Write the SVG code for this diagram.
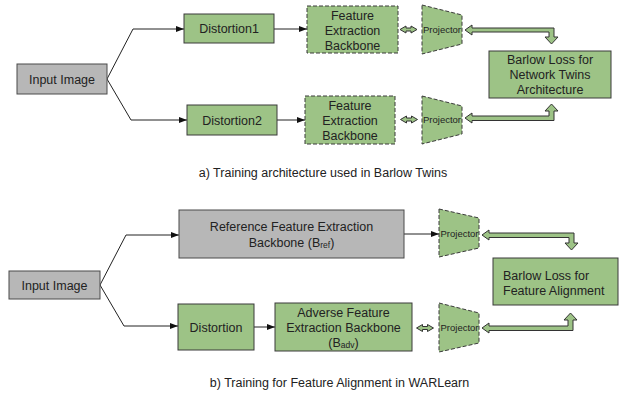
<svg xmlns="http://www.w3.org/2000/svg" width="619" height="398" viewBox="0 0 619 398">
<defs>
<style>
text{font-family:"Liberation Sans",Arial,sans-serif;font-size:12.5px;fill:#222;text-anchor:middle}
.g{fill:#9dc386;stroke:#3a3a3a;stroke-width:1}
.gy{fill:#b7b7b7;stroke:#4a4a4a;stroke-width:1}
.d{stroke-dasharray:4 2}
.pt{font-size:9.5px}
.ln{fill:none;stroke:#222;stroke-width:1;marker-end:url(#ah)}
.wa{fill:#9dc386;stroke:#333;stroke-width:1;stroke-linejoin:miter}
.sub{font-size:8.5px}
</style>
<marker id="ah" markerUnits="userSpaceOnUse" markerWidth="8" markerHeight="6" refX="8" refY="3" orient="auto">
<path d="M0,0 L8,3 L0,6 Z" fill="#111"/>
</marker>
<path id="dbl" d="M0,0 L6,-3.5 L6,-1.5 L11,-1.5 L11,-3.5 L17,0 L11,3.5 L11,1.5 L6,1.5 L6,3.5 Z"/>
</defs>

<g id="connectors">
<polyline class="ln" points="107,79 133,29 184,29"/>
<polyline class="ln" points="107,79 131,120 187,120"/>
<line class="ln" x1="274" y1="29" x2="307" y2="29"/>
<line class="ln" x1="277" y1="120" x2="305" y2="120"/>
<use href="#dbl" class="wa" x="400" y="29.5"/>
<use href="#dbl" class="wa" x="400.5" y="119.5"/>
<path class="wa" d="M465,30 L472,25 L472,28 L554,28 L554,37 L558,37 L551.5,44 L545,37 L549,37 L549,32 L472,32 L472,35 Z"/>
<path class="wa" d="M465,118 L472,113 L472,116 L549,116 L549,111 L545,111 L551.5,104 L558,111 L554,111 L554,120.5 L472,120.5 L472,123 Z"/>
<polyline class="ln" points="100,285 126,235 179,235"/>
<polyline class="ln" points="100,285 124,326 178,326"/>
<line class="ln" x1="254" y1="327" x2="275" y2="327"/>
<line class="ln" x1="404" y1="234" x2="439" y2="234"/>
<use href="#dbl" class="wa" x="416.5" y="328"/>
<path class="wa" d="M482,235 L489,230 L489,233 L574,233 L574,243 L578,243 L571.5,250 L565,243 L569,243 L569,237.5 L489,237.5 L489,240 Z"/>
<path class="wa" d="M482,328 L489,323 L489,326 L568,326 L568,320 L564,320 L570.5,313 L577,320 L573,320 L573,330.5 L489,330.5 L489,333 Z"/>
</g>

<g id="input1">
<rect class="gy" x="17" y="64" width="90" height="30"/>
<text x="62" y="83.5">Input Image</text>
</g>
<g id="distortion1">
<rect class="g" x="184" y="14" width="90" height="29"/>
<text x="229" y="33">Distortion1</text>
</g>
<g id="distortion2">
<rect class="g" x="187" y="105" width="90" height="30"/>
<text x="232" y="124.5">Distortion2</text>
</g>
<g id="backbone1">
<rect class="g d" x="307" y="6" width="91" height="47"/>
<text x="352.5" y="19.5">Feature</text>
<text x="352.5" y="34.5">Extraction</text>
<text x="352.5" y="49.5">Backbone</text>
</g>
<g id="backbone2">
<rect class="g d" x="305" y="96" width="90" height="48"/>
<text x="350" y="109.5">Feature</text>
<text x="350" y="124.5">Extraction</text>
<text x="350" y="139.5">Backbone</text>
</g>
<g id="projector1">
<polygon class="g d" points="422,5 462,15 462,44 422,54"/>
<text class="pt" x="442" y="33">Projector</text>
</g>
<g id="projector2">
<polygon class="g d" points="422,96 462,106 462,134 422,144"/>
<text class="pt" x="442" y="122.5">Projector</text>
</g>
<g id="barlow1">
<rect class="g" x="489" y="51" width="122" height="47"/>
<text x="550" y="63.5">Barlow Loss for</text>
<text x="550" y="78.5">Network Twins</text>
<text x="550" y="93.5">Architecture</text>
</g>
<text x="323" y="177">a) Training architecture used in Barlow Twins</text>

<g id="input2">
<rect class="gy" x="9" y="271" width="91" height="28"/>
<text x="54.5" y="289.5">Input Image</text>
</g>
<g id="reference">
<rect class="gy" x="179" y="210" width="225" height="48"/>
<text x="291.5" y="230.5">Reference Feature Extraction</text>
<text x="291.5" y="246.5">Backbone (B<tspan class="sub" dy="1">ref</tspan><tspan dy="-1">)</tspan></text>
</g>
<g id="distortion">
<rect class="g" x="178" y="304" width="76" height="46"/>
<text x="216" y="331.5">Distortion</text>
</g>
<g id="adverse">
<rect class="g" x="275" y="303" width="137" height="48"/>
<text x="343.5" y="317">Adverse Feature</text>
<text x="343.5" y="332">Extraction Backbone</text>
<text x="343.5" y="347">(B<tspan class="sub" dy="1">adv</tspan><tspan dy="-1">)</tspan></text>
</g>
<g id="projector3">
<polygon class="g d" points="439,209 479,218 479,248 439,257"/>
<text class="pt" x="459.5" y="236.5">Projector</text>
</g>
<g id="projector4">
<polygon class="g d" points="439,303 479,313 479,343 439,352"/>
<text class="pt" x="459.5" y="330.5">Projector</text>
</g>
<g id="barlow2">
<rect class="g" x="493" y="258" width="125" height="47"/>
<text x="503" y="279.5" style="text-anchor:start">Barlow Loss for</text>
<text x="503" y="294.5" style="text-anchor:start">Feature Alignment</text>
</g>
<text x="339.5" y="387">b) Training for Feature Alignment in WARLearn</text>
</svg>
